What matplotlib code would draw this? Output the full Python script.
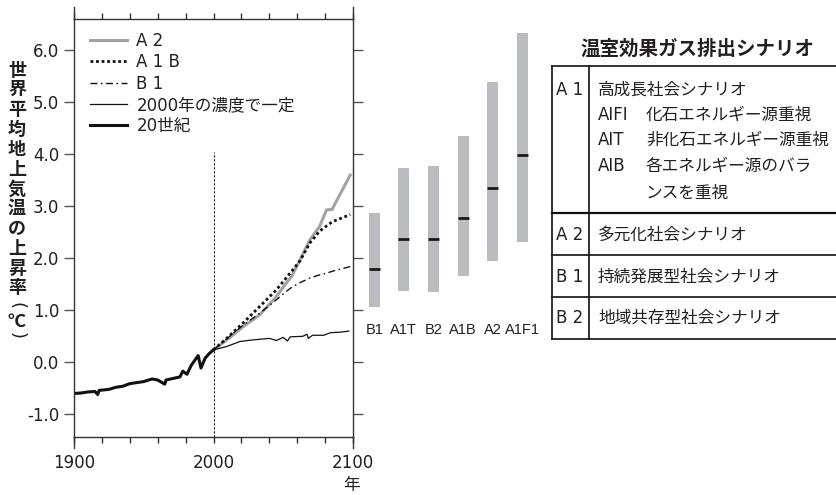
import matplotlib
matplotlib.use("Agg")
from matplotlib import pyplot as plt
from matplotlib.lines import Line2D

plt.rcParams['font.family'] = ['DejaVu Sans', 'Noto Sans CJK JP']
TXT = '#231f20'

# 20th century observed
years_20c = [1900, 1905, 1910, 1915, 1917, 1918, 1925, 1930, 1935, 1940, 1945, 1950,
             1956, 1960, 1965, 1966, 1971, 1976, 1978, 1981, 1984, 1989, 1991, 1994, 1997, 2000]
temp_20c = [-0.60, -0.59, -0.57, -0.56, -0.62, -0.54, -0.52, -0.48, -0.46, -0.41, -0.39, -0.37,
            -0.32, -0.34, -0.42, -0.34, -0.31, -0.28, -0.17, -0.23, -0.06, 0.13, -0.11, 0.08, 0.17, 0.24]

# projections
years_proj = [2000, 2009, 2021, 2033, 2045, 2052, 2056, 2062, 2069, 2076, 2081, 2085, 2098]
temp_a2 = [0.24, 0.42, 0.68, 0.91, 1.26, 1.52, 1.65, 1.97, 2.35, 2.61, 2.93, 2.94, 3.60]
temp_a1b = [0.24, 0.45, 0.75, 1.07, 1.39, 1.62, 1.75, 1.95, 2.29, 2.52, 2.62, 2.70, 2.84]
temp_b1 = [0.24, 0.44, 0.71, 0.94, 1.20, 1.36, 1.44, 1.53, 1.62, 1.68, 1.71, 1.75, 1.84]

years_const = [2000, 2009, 2019, 2028, 2040, 2045, 2050, 2053, 2055, 2064, 2067, 2068, 2071,
               2079, 2084, 2091, 2097]
temp_const = [0.24, 0.30, 0.40, 0.43, 0.46, 0.42, 0.48, 0.41, 0.49, 0.50, 0.54, 0.46, 0.52,
              0.52, 0.57, 0.58, 0.60]

# 2100 ranges per scenario
scen = ['B1', 'A1T', 'B2', 'A1B', 'A2', 'A1F1']
best = [1.79, 2.37, 2.37, 2.78, 3.36, 3.99]
low = [1.06, 1.38, 1.36, 1.65, 1.95, 2.32]
high = [2.88, 3.74, 3.78, 4.35, 5.38, 6.34]

legend_labels = ['A 2', 'A 1 B', 'B 1', '2000年の濃度で一定', '20世紀']

W, H = 837, 495
fig = plt.figure(figsize=(W / 100, H / 100), dpi=100)

ax_l, ax_r, ax_t, ax_b = 74, 353, 19, 436.7
pos = [ax_l / W, 1 - ax_b / H, (ax_r - ax_l) / W, (ax_b - ax_t) / H]
ax = fig.add_axes(pos)
ylo, yhi = -1.43, 6.6
ax.set_xlim(1900, 2100)
ax.set_ylim(ylo, yhi)

l_a2, = ax.plot(years_proj, temp_a2, color='#a3a3a3', lw=2.2, solid_joinstyle='miter')
l_a1b, = ax.plot(years_proj, temp_a1b, color='#111111', lw=2.0, ls=(0, (1, 1)))
l_b1, = ax.plot(years_proj, temp_b1, color='#111111', lw=1.0, ls=(0, (5, 2.5, 1.2, 2.5)))
l_c, = ax.plot(years_const, temp_const, color='#111111', lw=0.9)
l_20, = ax.plot(years_20c, temp_20c, color='#111111', lw=2.2)
ax.plot([2000, 2000], [ylo, 4.05], color='#111111', lw=0.8, ls=(0, (2, 1.6)))

for s in ax.spines.values():
    s.set_color('#333333')
    s.set_linewidth(1.0)
for xa in (0, 1):
    for y0, y1 in ((1, 1 + 12 / (ax_b - ax_t)), (0, -11 / (ax_b - ax_t))):
        ax.add_line(Line2D([xa, xa], [y0, y1], transform=ax.transAxes, color='#333333',
                           lw=1.0, clip_on=False))

ax.set_xticks([1900, 2000, 2100])
ax.set_xticklabels(['1900', '2000', '2100'], fontsize=12, color=TXT)
ax.set_xticks(range(1900, 2101, 20), minor=True)
ax.tick_params(axis='x', which='both', direction='out', top=True, length=4.2, width=1,
               color='#333333', pad=8)
yt = list(range(-1, 7))
ax.set_yticks(yt)
ax.set_yticklabels([f'{v:.1f}' for v in yt], fontsize=12, color=TXT)
ax.tick_params(axis='y', direction='out', right=True, length=7.5, width=1, color='#555555', pad=3)

ax.legend([l_a2, l_a1b, l_b1, l_c, l_20], legend_labels, loc='upper left',
          bbox_to_anchor=(0.035, 0.985), borderaxespad=0, frameon=False, fontsize=12,
          handlelength=2.2, handletextpad=0.55, labelspacing=0.2, labelcolor=TXT)

# ranges at 2100
ax2 = fig.add_axes([355 / W, pos[1], 190 / W, pos[3]])
ax2.set_xlim(-0.652, 5.77)
ax2.set_ylim(ylo, yhi)
ax2.axis('off')
idx = list(range(len(scen)))
ax2.bar(idx, [h - l for h, l in zip(high, low)], bottom=low, width=0.37, color='#bbbcc0')
ax2.hlines(best, [i - 0.185 for i in idx], [i + 0.185 for i in idx], color='#1a1a1a', lw=2)
for i, nm in enumerate(scen):
    ax2.text(i, 0.63, nm, ha='center', va='center', fontsize=10.5, family='Liberation Sans',
             color=TXT)

# overlay in pixel coordinates for the table and labels
ov = fig.add_axes([0, 0, 1, 1])
ov.set_xlim(0, W)
ov.set_ylim(H, 0)
ov.axis('off')
ov.patch.set_alpha(0)

ylab = list('世界平均地上気温の上昇率')
for i, ch in enumerate(ylab):
    ov.text(17, 70 + 19.8 * i, ch, ha='center', va='center', fontsize=13, fontweight='bold',
            color=TXT, family='Noto Sans CJK JP')
ov.text(17, 306, '(', rotation=-90, ha='center', va='center', fontsize=13, color=TXT)
ov.text(17, 321, '℃', ha='center', va='center', fontsize=13, fontweight='bold', color=TXT,
        family='Noto Sans CJK JP')
ov.text(17, 336, ')', rotation=-90, ha='center', va='center', fontsize=13, color=TXT)
ov.text(352, 485, '年', ha='center', va='center', fontsize=12, color=TXT)

ov.text(697, 49, '温室効果ガス排出シナリオ', ha='center', va='center', fontsize=14,
        fontweight='bold', color=TXT, family='Noto Sans CJK JP')

tl, tdiv, tr = 552, 589, 837
ttop, tbot = 66, 339
rows = [212.7, 255, 297]
lk = dict(color='#111111', lw=1.2)
ov.plot([tl, tr], [ttop, ttop], **lk)
ov.plot([tl, tr], [tbot, tbot], **lk)
ov.plot([tl, tl], [ttop, tbot], **lk)
ov.plot([tdiv, tdiv], [ttop, tbot], **lk)
ov.plot([tl, tr], [rows[0], rows[0]], color='#111111', lw=1.6)
for r in rows[1:]:
    ov.plot([tl, tr], [r, r], **lk)

row_keys = ['A 1', 'A 2', 'B 1', 'B 2']
row_key_y = [90, 235, 277, 318]
for k, yy in zip(row_keys, row_key_y):
    ov.text(570, yy, k, ha='center', va='center', fontsize=12, color=TXT)

cjk = 12
row_desc = ['多元化社会シナリオ', '持続発展型社会シナリオ', '地域共存型社会シナリオ']
for d, yy in zip(row_desc, row_key_y[1:]):
    ov.text(598, yy, d, ha='left', va='center', fontsize=cjk, color=TXT,
            family='Noto Sans CJK JP')

ov.text(598, 90, '高成長社会シナリオ', ha='left', va='center', fontsize=cjk, color=TXT,
        family='Noto Sans CJK JP')
sub_keys = ['AIFI', 'AIT', 'AIB', '']
sub_desc = ['化石エネルギー源重視', '非化石エネルギー源重視', '各エネルギー源のバラ', 'ンスを重視']
sub_y = [115, 140, 166, 193]
for k, d, yy in zip(sub_keys, sub_desc, sub_y):
    ov.text(598, yy, k, ha='left', va='center', fontsize=12, color=TXT)
    ov.text(646, yy, d, ha='left', va='center', fontsize=cjk, color=TXT,
            family='Noto Sans CJK JP')

fig.savefig('out.png', dpi=100)
